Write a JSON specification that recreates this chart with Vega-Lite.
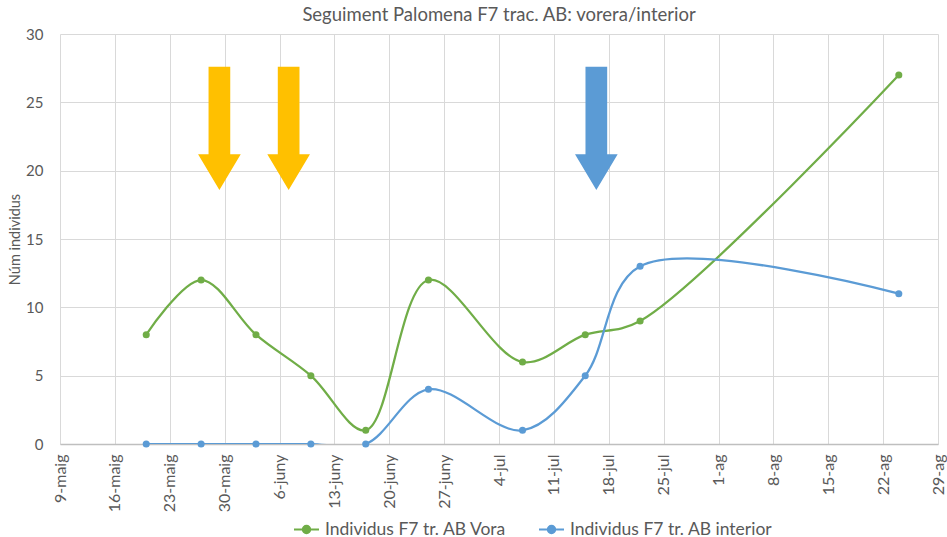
{
  "$schema": "https://vega.github.io/schema/vega-lite/v6.json",
  "width": 878,
  "height": 410,
  "autosize": "none",
  "padding": {"left": 60, "top": 34, "right": 9, "bottom": 93},
  "background": "white",
  "title": {"text": "Seguiment Palomena F7 trac. AB: vorera/interior", "font": "Lato", "fontSize": 18.5, "fontWeight": "normal", "color": "#595959", "offset": 3, "anchor": "middle"},
  "config": {
    "font": "Lato",
    "view": {"stroke": null},
    "axis": {"gridColor": "#d9d9d9", "gridWidth": 1, "ticks": false, "labelColor": "#595959", "titleColor": "#595959", "labelFont": "Lato", "titleFont": "Lato"}
  },
  "datasets": {
    "series": [
      {"data": "2019-05-20", "valor": 8, "serie": "Individus F7 tr. AB Vora"},
      {"data": "2019-05-27", "valor": 12, "serie": "Individus F7 tr. AB Vora"},
      {"data": "2019-06-03", "valor": 8, "serie": "Individus F7 tr. AB Vora"},
      {"data": "2019-06-10", "valor": 5, "serie": "Individus F7 tr. AB Vora"},
      {"data": "2019-06-17", "valor": 1, "serie": "Individus F7 tr. AB Vora"},
      {"data": "2019-06-25", "valor": 12, "serie": "Individus F7 tr. AB Vora"},
      {"data": "2019-07-07", "valor": 6, "serie": "Individus F7 tr. AB Vora"},
      {"data": "2019-07-15", "valor": 8, "serie": "Individus F7 tr. AB Vora"},
      {"data": "2019-07-22", "valor": 9, "serie": "Individus F7 tr. AB Vora"},
      {"data": "2019-08-24", "valor": 27, "serie": "Individus F7 tr. AB Vora"},
      {"data": "2019-05-20", "valor": 0, "serie": "Individus F7 tr. AB interior"},
      {"data": "2019-05-27", "valor": 0, "serie": "Individus F7 tr. AB interior"},
      {"data": "2019-06-03", "valor": 0, "serie": "Individus F7 tr. AB interior"},
      {"data": "2019-06-10", "valor": 0, "serie": "Individus F7 tr. AB interior"},
      {"data": "2019-06-17", "valor": 0, "serie": "Individus F7 tr. AB interior"},
      {"data": "2019-06-25", "valor": 4, "serie": "Individus F7 tr. AB interior"},
      {"data": "2019-07-07", "valor": 1, "serie": "Individus F7 tr. AB interior"},
      {"data": "2019-07-15", "valor": 5, "serie": "Individus F7 tr. AB interior"},
      {"data": "2019-07-22", "valor": 13, "serie": "Individus F7 tr. AB interior"},
      {"data": "2019-08-24", "valor": 11, "serie": "Individus F7 tr. AB interior"}
    ],
    "fletxes": [
      {"data": "2019-05-29T08:00", "valor": 23.1, "tipus": "groc"},
      {"data": "2019-06-07T04:00", "valor": 23.1, "tipus": "groc"},
      {"data": "2019-07-16T10:00", "valor": 23.1, "tipus": "blau"}
    ]
  },
  "encoding": {
    "x": {
      "field": "data", "type": "temporal",
      "scale": {"type": "utc", "domain": [{"year": 2019, "month": 5, "date": 9, "utc": true}, {"year": 2019, "month": 8, "date": 29, "utc": true}]},
      "axis": {
        "title": null,
        "values": [
          {"year": 2019, "month": 5, "date": 9, "utc": true},
          {"year": 2019, "month": 5, "date": 16, "utc": true},
          {"year": 2019, "month": 5, "date": 23, "utc": true},
          {"year": 2019, "month": 5, "date": 30, "utc": true},
          {"year": 2019, "month": 6, "date": 6, "utc": true},
          {"year": 2019, "month": 6, "date": 13, "utc": true},
          {"year": 2019, "month": 6, "date": 20, "utc": true},
          {"year": 2019, "month": 6, "date": 27, "utc": true},
          {"year": 2019, "month": 7, "date": 4, "utc": true},
          {"year": 2019, "month": 7, "date": 11, "utc": true},
          {"year": 2019, "month": 7, "date": 18, "utc": true},
          {"year": 2019, "month": 7, "date": 25, "utc": true},
          {"year": 2019, "month": 8, "date": 1, "utc": true},
          {"year": 2019, "month": 8, "date": 8, "utc": true},
          {"year": 2019, "month": 8, "date": 15, "utc": true},
          {"year": 2019, "month": 8, "date": 22, "utc": true},
          {"year": 2019, "month": 8, "date": 29, "utc": true}
        ],
        "labelExpr": "utcdate(datum.value) + '-' + ['gen','febr','març','abr','maig','juny','jul','ag','set','oct','nov','des'][utcmonth(datum.value)]",
        "labelAngle": -90,
        "labelFontSize": 16,
        "labelPadding": 10,
        "grid": true,
        "domainColor": "#bfbfbf",
        "domainWidth": 1.5,
        "labelFlush": false,
        "labelOverlap": false
      }
    },
    "y": {
      "field": "valor", "type": "quantitative",
      "scale": {"domain": [0, 30]},
      "axis": {"title": "Núm individus", "values": [0, 5, 10, 15, 20, 25, 30], "labelFontSize": 15, "labelPadding": 17, "titleFontSize": 14.5, "titleFontWeight": "normal", "titlePadding": 3, "domain": false}
    }
  },
  "layer": [
    {
      "data": {"name": "fletxes"},
      "mark": {"type": "point", "filled": true, "opacity": 1, "size": 15203, "strokeWidth": 0,
        "shape": "M -0.176 -1 L 0.176 -1 L 0.176 0.421 L 0.346 0.421 L 0 1 L -0.346 0.421 L -0.176 0.421 Z"},
      "encoding": {
        "fill": {"field": "tipus", "type": "nominal", "scale": {"domain": ["groc", "blau"], "range": ["#FFC000", "#5B9BD5"]}, "legend": null}
      }
    },
    {
      "data": {"name": "series"},
      "mark": {"type": "line", "interpolate": "catmull-rom", "strokeWidth": 2.25, "clip": true},
      "encoding": {
        "color": {"field": "serie", "type": "nominal",
          "scale": {"domain": ["Individus F7 tr. AB Vora", "Individus F7 tr. AB interior"], "range": ["#70AD47", "#5B9BD5"]},
          "legend": {"title": null, "orient": "none", "legendX": 233, "legendY": 482, "direction": "horizontal",
            "labelFontSize": 17.5, "labelColor": "#595959", "labelFont": "Lato", "labelLimit": 400, "columnPadding": 28, "labelOffset": 5,
            "symbolType": "M -1 0 L 1 0 M 0.3 0 A 0.3 0.3 0 1 1 -0.3 0 A 0.3 0.3 0 1 1 0.3 0 Z",
            "symbolSize": 625, "symbolStrokeWidth": 2,
            "encode": {"symbols": {"update": {"fill": {"scale": "color", "field": "value"}, "stroke": {"scale": "color", "field": "value"}, "strokeWidth": {"value": 2}, "opacity": {"value": 1}}}}}
        }
      }
    },
    {
      "data": {"name": "series"},
      "mark": {"type": "point", "filled": true, "size": 50, "opacity": 1},
      "encoding": {
        "color": {"field": "serie", "type": "nominal"}
      }
    }
  ]
}
